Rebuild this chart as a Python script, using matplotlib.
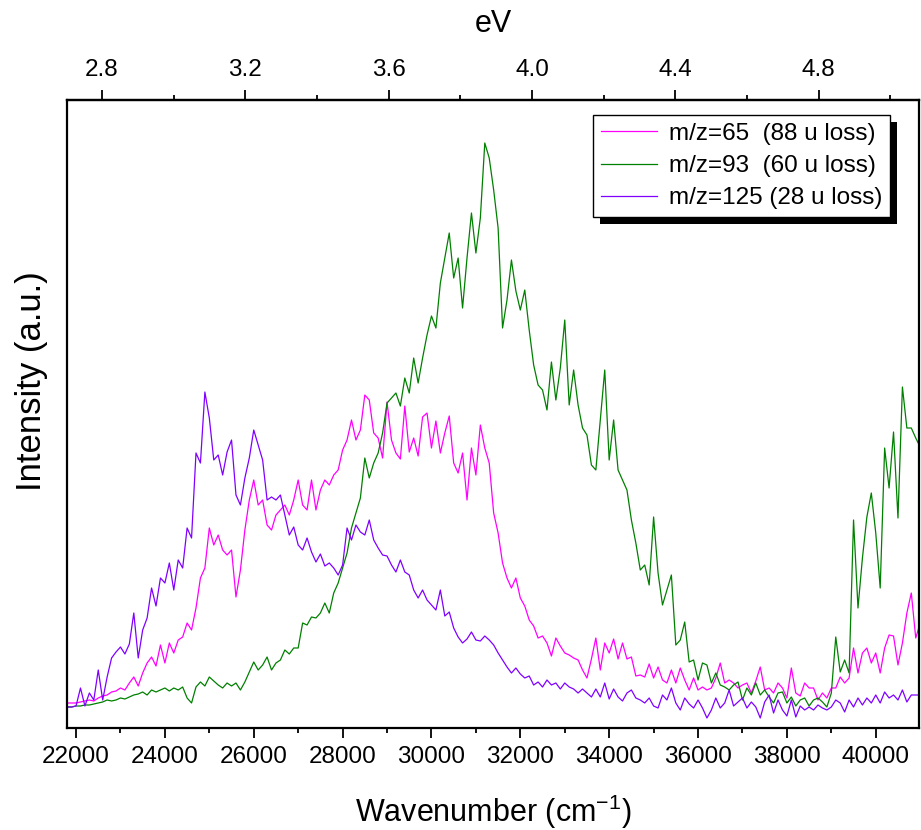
"""
Photodissociation spectra: fragment ion intensity vs wavenumber, with an eV axis on top
"""

import numpy as np
import matplotlib
matplotlib.use('Agg')
import matplotlib.pyplot as plt
from matplotlib.ticker import MultipleLocator, FixedLocator, FormatStrFormatter
from matplotlib.patches import Rectangle

plt.rcParams['font.family'] = ['Liberation Sans', 'DejaVu Sans']
plt.rcParams['mathtext.default'] = 'regular'

# wavenumber grid of the read-off points (cm-1), 21800 ... 41000 in 100 steps
wavenumber = np.arange(21800, 41001, 100)

# m/z=65 (88 u loss)
mz65 = [25, 25,
        25, 26, 27, 28, 27, 30, 32, 33, 36, 37,
        40, 38, 45, 51, 42, 55, 65, 71, 62, 83,
        65, 85, 75, 88, 91, 105, 98, 120, 150, 160,
        200, 183, 193, 178, 173, 178, 131, 158, 198, 228,
        248, 223, 228, 203, 198, 213, 218, 223, 213, 228,
        248, 223, 218, 248, 218, 238, 248, 243, 253, 258,
        278, 288, 308, 288, 298, 333, 328, 295, 290, 270,
        326, 288, 275, 269, 322, 276, 290, 272, 311, 315,
        280, 307, 275, 295, 312, 265, 255, 275, 228, 280,
        253, 303, 280, 265, 215, 195, 165, 150, 140, 150,
        130, 122, 108, 102, 90, 92, 85, 72, 90, 82,
        75, 73, 70, 68, 58, 50, 69, 90, 58, 85,
        75, 89, 69, 85, 69, 71, 52, 53, 51, 64,
        50, 61, 48, 45, 58, 45, 60, 48, 38, 50,
        38, 41, 38, 40, 50, 65, 45, 48, 45, 40,
        43, 45, 35, 47, 61, 38, 40, 35, 45, 40,
        30, 60, 35, 32, 45, 40, 40, 28, 35, 30,
        40, 40, 51, 45, 50, 80, 55, 75, 80, 65,
        75, 55, 80, 93, 92, 63, 85, 115, 135, 90,
        105]

# m/z=93 (60 u loss)
mz93 = [21, 21,
        22, 22, 23, 23, 24, 25, 26, 28, 27, 28,
        30, 29, 31, 33, 34, 36, 33, 38, 36, 38,
        40, 37, 40, 38, 41, 30, 25, 41, 46, 42,
        51, 47, 43, 40, 45, 42, 45, 38, 46, 56,
        66, 58, 63, 71, 58, 65, 68, 78, 74, 80,
        80, 105, 103, 111, 110, 115, 125, 115, 135, 145,
        160, 175, 200, 215, 230, 270, 250, 265, 275, 295,
        325, 330, 335, 322, 350, 335, 370, 345, 370, 393,
        412, 400, 445, 470, 495, 450, 470, 420, 470, 515,
        475, 510, 585, 570, 538, 500, 400, 428, 468, 437,
        418, 438, 398, 363, 343, 338, 318, 366, 328, 360,
        408, 323, 358, 323, 300, 293, 263, 258, 308, 358,
        268, 308, 258, 248, 238, 208, 185, 158, 163, 143,
        211, 155, 123, 138, 153, 83, 88, 106, 66, 68,
        48, 65, 63, 45, 55, 43, 41, 38, 43, 46,
        28, 40, 33, 45, 33, 38, 31, 25, 35, 36,
        25, 31, 22, 28, 30, 22, 28, 30, 26, 21,
        35, 91, 56, 68, 55, 208, 120, 170, 211, 235,
        195, 140, 280, 240, 296, 210, 341, 300, 300, 290,
        281]

# m/z=125 (28 u loss)
mz125 = [21, 21,
         22, 40, 22, 35, 28, 58, 28, 51, 70, 76,
         81, 74, 84, 115, 70, 98, 110, 140, 122, 150,
         145, 165, 138, 168, 160, 200, 190, 275, 265, 336,
         310, 268, 273, 253, 276, 288, 233, 223, 250, 270,
         298, 283, 268, 228, 231, 228, 233, 213, 193, 201,
         183, 178, 190, 176, 166, 174, 162, 165, 160, 153,
         163, 200, 188, 203, 196, 193, 208, 188, 180, 173,
         172, 163, 156, 168, 156, 153, 138, 130, 138, 128,
         123, 118, 138, 112, 116, 100, 91, 85, 89, 96,
         88, 87, 92, 88, 83, 75, 68, 61, 55, 60,
         54, 50, 52, 43, 46, 41, 48, 43, 45, 39,
         45, 41, 39, 35, 39, 35, 31, 39, 31, 45,
         29, 39, 31, 27, 35, 38, 30, 28, 25, 30,
         22, 20, 33, 28, 40, 25, 18, 30, 24, 20,
         28, 20, 10, 18, 30, 20, 25, 38, 22, 26,
         30, 20, 26, 21, 10, 26, 33, 15, 28, 18,
         12, 28, 11, 22, 18, 21, 18, 23, 20, 18,
         21, 28, 25, 16, 28, 21, 30, 23, 30, 25,
         33, 25, 36, 30, 33, 28, 38, 26, 33, 33,
         33]

labels = ['m/z=65  (88 u loss)', 'm/z=93  (60 u loss)', 'm/z=125 (28 u loss)']
colors = ['#FF00FF', '#008000', '#8000FF']

# tick positions of the eV axis
ev_major = [2.8, 3.2, 3.6, 4.0, 4.4, 4.8]
ev_minor = [3.0, 3.4, 3.8, 4.2, 4.6, 5.0]

CM_PER_EV = 8065.54

fig = plt.figure(figsize=(9.21, 8.30), dpi=100)
ax = fig.add_axes([0.0731, 0.1229, 0.9251, 0.7566])

for series, lab, col in zip([mz65, mz93, mz125], labels, colors):
    ax.plot(wavenumber, series, color=col, lw=0.9, label=lab)

ax.set_xlim(21804, 40981)
ax.set_ylim(0, 628)

# bottom axis
ax.xaxis.set_major_locator(MultipleLocator(2000))
ax.xaxis.set_minor_locator(MultipleLocator(1000))
ax.xaxis.set_major_formatter(FormatStrFormatter('%d'))
ax.tick_params(axis='x', which='major', direction='out', length=7, width=1.3,
               labelsize=17.5, pad=6, top=False)
ax.tick_params(axis='x', which='minor', direction='out', length=3.6, width=1.3, top=False)
ax.set_yticks([])
for sp in ax.spines.values():
    sp.set_linewidth(1.6)

ax.set_xlabel('Wavenumber (cm$^{-1}$)', fontsize=22, labelpad=18)
ax.set_ylabel('Intensity (a.u.)', fontsize=25, labelpad=14)
ax.yaxis.label.set_y(0.552)

# top axis in eV
secax = ax.secondary_xaxis('top', functions=(lambda w: w / CM_PER_EV,
                                             lambda e: e * CM_PER_EV))
secax.xaxis.set_major_locator(FixedLocator(ev_major))
secax.xaxis.set_minor_locator(FixedLocator(ev_minor))
secax.xaxis.set_major_formatter(FormatStrFormatter('%.1f'))
secax.tick_params(axis='x', which='major', direction='out', length=7, width=1.3,
                  labelsize=17.5, pad=7)
secax.tick_params(axis='x', which='minor', direction='out', length=3.6, width=1.3)
secax.spines['top'].set_linewidth(1.6)
secax.set_xlabel('eV', fontsize=22, labelpad=19)

# legend with a hard black drop shadow
leg = ax.legend(loc='upper right', bbox_to_anchor=(0.9656, 0.976), borderaxespad=0,
                fontsize=17.5, frameon=True, fancybox=False, framealpha=1,
                edgecolor='black', handlelength=2.3, handletextpad=0.5,
                labelspacing=0.42, borderpad=0.32)
leg.get_frame().set_linewidth(1.0)

fig.canvas.draw()
bb = leg.get_window_extent()
shadow = Rectangle((bb.x0 + 7, bb.y0 - 7), bb.width, bb.height, transform=None,
                   facecolor='black', edgecolor='none', zorder=leg.get_zorder() - 0.1)
ax.add_artist(shadow)

fig.savefig('out.png', dpi=100)
